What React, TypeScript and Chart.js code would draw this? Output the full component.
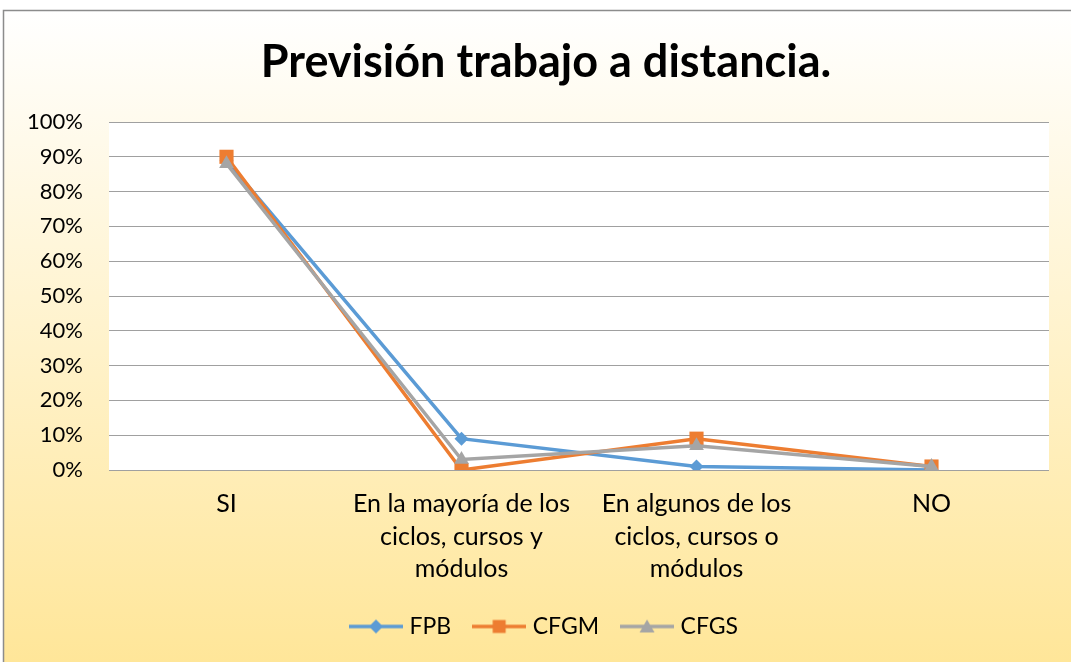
import React, { useEffect, useRef } from "react";
import { Chart, registerables } from "chart.js";

Chart.register(...registerables);

const TITLE = "Previsión trabajo a distancia.";
const CATEGORIES: (string | string[])[] = [
  "SI",
  ["En la mayoría de los", "ciclos, cursos y", "módulos"],
  ["En algunos de los", "ciclos, cursos o", "módulos"],
  "NO",
];
const SERIES_NAMES = ["FPB", "CFGM", "CFGS"];
const FPB = [89, 9, 1, 0];
const CFGM = [90, 0, 9, 1];
const CFGS = [88, 3, 7, 1];
const COLORS = ["#5B9BD5", "#ED7D31", "#A5A5A5"];
const MARKERS = ["rectRot", "rect", "triangle"];
const MARKER_RADIUS = [7, 10, 8.5];

const FONT = "Lato, 'Open Sans', sans-serif";

function legendIcon(color: string, marker: string): HTMLCanvasElement {
  const c = document.createElement("canvas");
  c.width = 54;
  c.height = 18;
  const ctx = c.getContext("2d")!;
  ctx.strokeStyle = color;
  ctx.lineWidth = 3.5;
  ctx.beginPath();
  ctx.moveTo(0, 9);
  ctx.lineTo(54, 9);
  ctx.stroke();
  ctx.fillStyle = color;
  ctx.beginPath();
  const cx = 27, cy = 9;
  if (marker === "rectRot") {
    ctx.moveTo(cx, cy - 7);
    ctx.lineTo(cx + 7, cy);
    ctx.lineTo(cx, cy + 7);
    ctx.lineTo(cx - 7, cy);
  } else if (marker === "rect") {
    ctx.rect(cx - 6.5, cy - 6.5, 13, 13);
  } else {
    ctx.moveTo(cx, cy - 7);
    ctx.lineTo(cx + 7.5, cy + 6);
    ctx.lineTo(cx - 7.5, cy + 6);
  }
  ctx.closePath();
  ctx.fill();
  return c;
}

const backgroundPlugin = {
  id: "bgFrame",
  beforeDraw(chart: any) {
    const { ctx, width, height, chartArea } = chart;
    ctx.save();
    ctx.fillStyle = "#ffffff";
    ctx.fillRect(0, 0, width, height);
    const g = ctx.createLinearGradient(0, 10, 0, height);
    g.addColorStop(0, "#ffffff");
    g.addColorStop(1, "#FFE699");
    ctx.fillStyle = g;
    ctx.fillRect(3, 10, width - 3, height - 10);
    ctx.strokeStyle = "#8C8C8C";
    ctx.lineWidth = 1.5;
    ctx.beginPath();
    ctx.moveTo(3.5, height);
    ctx.lineTo(3.5, 10.5);
    ctx.lineTo(width, 10.5);
    ctx.stroke();
    ctx.fillStyle = "#ffffff";
    ctx.fillRect(
      chartArea.left,
      chartArea.top,
      chartArea.right - chartArea.left,
      chartArea.bottom - chartArea.top
    );
    ctx.restore();
  },
};

export default function App() {
  const ref = useRef<HTMLCanvasElement | null>(null);

  useEffect(() => {
    if (!ref.current) return;
    const values = [FPB, CFGM, CFGS];
    const icons = COLORS.map((c, i) => legendIcon(c, MARKERS[i]));
    const chart = new Chart(ref.current, {
      type: "line",
      data: {
        labels: CATEGORIES,
        datasets: SERIES_NAMES.map((name, i) => ({
          label: name,
          data: values[i],
          borderColor: COLORS[i],
          backgroundColor: COLORS[i],
          borderWidth: 3.5,
          pointStyle: MARKERS[i] as any,
          pointRadius: MARKER_RADIUS[i],
          pointBorderWidth: 0,
          pointHoverRadius: MARKER_RADIUS[i],
          tension: 0,
          order: 3 - i,
          yAxisID: "y",
        })),
      },
      options: {
        responsive: true,
        maintainAspectRatio: false,
        animation: false,
        layout: { padding: { left: 0, right: 0, top: 0, bottom: 14 } },
        plugins: {
          tooltip: { enabled: false },
          title: {
            display: true,
            text: TITLE,
            color: "#000000",
            font: { family: FONT, size: 45, weight: "bold", lineHeight: 1.2 },
            padding: { top: 35, bottom: 33 },
          },
          legend: {
            display: true,
            position: "bottom",
            labels: {
              usePointStyle: true,
              pointStyleWidth: 44,
              color: "#000000",
              font: { family: FONT, size: 23 },
              padding: 26,
              generateLabels: () =>
                SERIES_NAMES.map((name, i) => ({
                  text: name,
                  fillStyle: COLORS[i],
                  strokeStyle: COLORS[i],
                  lineWidth: 0,
                  pointStyle: icons[i] as any,
                  datasetIndex: i,
                  hidden: false,
                  fontColor: "#000000",
                })),
            },
          },
        },
        scales: {
          x: {
            offset: true,
            grid: { display: false, drawTicks: false },
            border: { display: false },
            ticks: {
              color: "#000000",
              font: { family: FONT, size: 25, lineHeight: 1.3 },
              padding: 18,
              maxRotation: 0,
              autoSkip: false,
            },
            afterFit: (s: any) => {
              s.height = 119;
            },
          },
          y: {
            position: "left",
            min: 0,
            max: 100,
            grid: { color: "#A0A0A0", lineWidth: 1, drawTicks: false },
            border: { display: false },
            ticks: {
              stepSize: 10,
              color: "#000000",
              font: { family: FONT, size: 22 },
              padding: 26,
              callback: (v: any) => v + "%",
            },
            afterFit: (s: any) => {
              s.width = 109;
            },
          },
          yRight: {
            position: "right",
            display: true,
            grid: { display: false, drawTicks: false },
            border: { display: false },
            ticks: { display: false },
            afterFit: (s: any) => {
              s.width = 43;
            },
          },
        },
      },
      plugins: [backgroundPlugin],
    });
    return () => chart.destroy();
  }, []);

  return (
    <div
      style={{
        position: "absolute",
        left: 0,
        top: 0,
        width: 1071,
        height: 662,
        overflow: "hidden",
      }}
    >
      <div style={{ position: "relative", width: 1092, height: 662 }}>
        <canvas ref={ref} />
      </div>
    </div>
  );
}
